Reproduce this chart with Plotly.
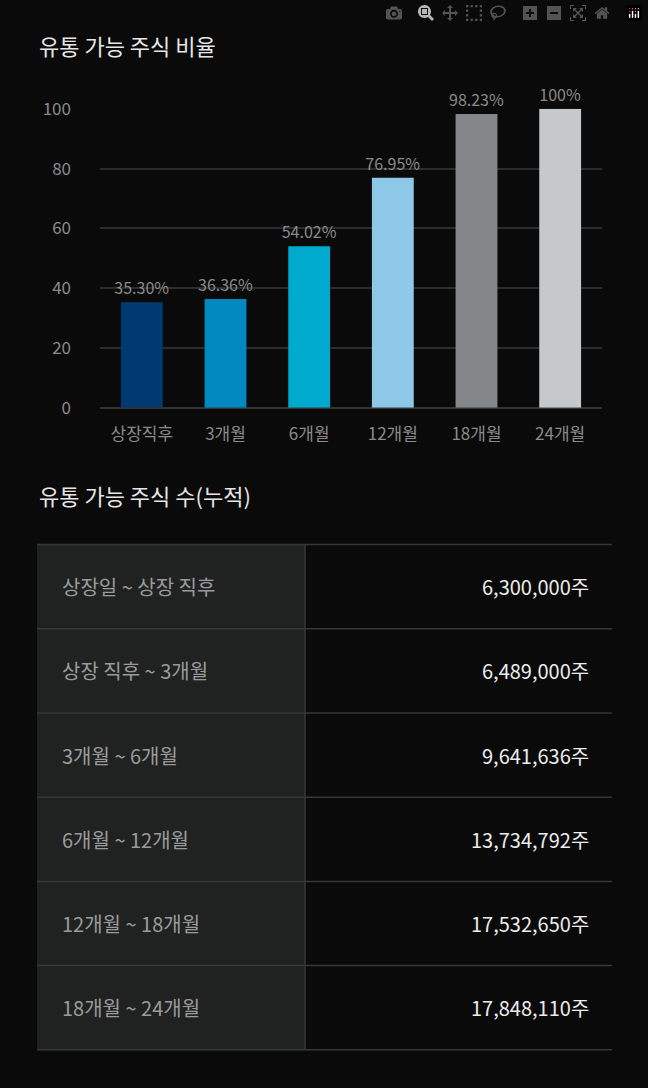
import plotly.graph_objects as go

W, H = 648, 1088

categories = ["상장직후", "3개월", "6개월", "12개월", "18개월", "24개월"]
ratios = [35.30, 36.36, 54.02, 76.95, 98.23, 100]
ratio_labels = ["35.30%", "36.36%", "54.02%", "76.95%", "98.23%", "100%"]
bar_colors = ["#003a70", "#0088bf", "#00aacf", "#8ec8e8", "#848789", "#c6c9cc"]

periods = ["상장일 ~ 상장 직후", "상장 직후 ~ 3개월", "3개월 ~ 6개월",
           "6개월 ~ 12개월", "12개월 ~ 18개월", "18개월 ~ 24개월"]
shares = ["6,300,000주", "6,489,000주", "9,641,636주",
          "13,734,792주", "17,532,650주", "17,848,110주"]

FONT = "Noto Sans CJK KR"
BG = "#0a0a0a"


def py(px):
    return 1 - px / H


def px_x(px):
    return px / W


fig = go.Figure()
fig.add_trace(go.Bar(
    x=categories, y=ratios, marker_color=bar_colors, marker_line_width=0, width=0.5,
    text=ratio_labels, textposition="outside", cliponaxis=False, constraintext="none",
    textfont=dict(color="#8a8a8a", size=16, family=FONT),
))

fig.update_layout(
    width=W, height=H, margin=dict(l=0, r=0, t=0, b=0),
    paper_bgcolor=BG, plot_bgcolor=BG, showlegend=False,
    font=dict(family=FONT, color="#8a8a8a"),
    xaxis=dict(domain=[px_x(100), px_x(602)], showgrid=False, showline=False,
               tickfont=dict(size=17, color="#8a8a8a"), ticklabelstandoff=14),
    yaxis=dict(domain=[py(403), py(97)], range=[0, 100], tickvals=[0, 20, 40, 60, 80, 100],
               gridcolor="#2c2c2c", gridwidth=1.5, zeroline=True, zerolinecolor="#333333",
               zerolinewidth=2, tickfont=dict(size=17, color="#8a8a8a"),
               ticklabelstandoff=28),
)

# titles
for text, y in [("유통 가능 주식 비율", 32), ("유통 가능 주식 수(누적)", 492)]:
    fig.add_annotation(text=text, x=px_x(37), y=py(y), xref="paper", yref="paper",
                       xanchor="left", yanchor="middle", showarrow=False,
                       font=dict(size=22, color="#e6e6e6", family=FONT))

# table drawn with shapes
top, row_h = 543, 86.2
left, split, right = 37, 305, 612
shapes = []
for i, (p, s) in enumerate(zip(periods, shares)):
    y0 = top + i * row_h
    y1 = y0 + row_h
    shapes.append(dict(type="rect", xref="paper", yref="paper", x0=px_x(left), x1=px_x(split),
                       y0=py(y1), y1=py(y0), fillcolor="#202222", line_width=0, layer="below"))
    fig.add_annotation(text=p, x=px_x(60), y=py((y0 + y1) / 2), xref="paper", yref="paper",
                       xanchor="left", yanchor="middle", showarrow=False,
                       font=dict(size=20, color="#9a9a9a", family=FONT))
    fig.add_annotation(text=s, x=px_x(591), y=py((y0 + y1) / 2), xref="paper", yref="paper",
                       xanchor="right", yanchor="middle", showarrow=False,
                       font=dict(size=20, color="#ececec", family=FONT))
for i in range(len(periods) + 1):
    y = top + i * row_h
    shapes.append(dict(type="line", xref="paper", yref="paper", x0=px_x(left), x1=px_x(right),
                       y0=py(y), y1=py(y), line=dict(color="#363838", width=1.5)))
shapes.append(dict(type="line", xref="paper", yref="paper", x0=px_x(split), x1=px_x(split),
                   y0=py(top + len(periods) * row_h), y1=py(top), line=dict(color="#363838", width=1.5)))
fig.update_layout(shapes=shapes)

fig.write_html("out.html",
               post_script="document.body.style.margin='0';document.body.style.background='#0a0a0a';")
